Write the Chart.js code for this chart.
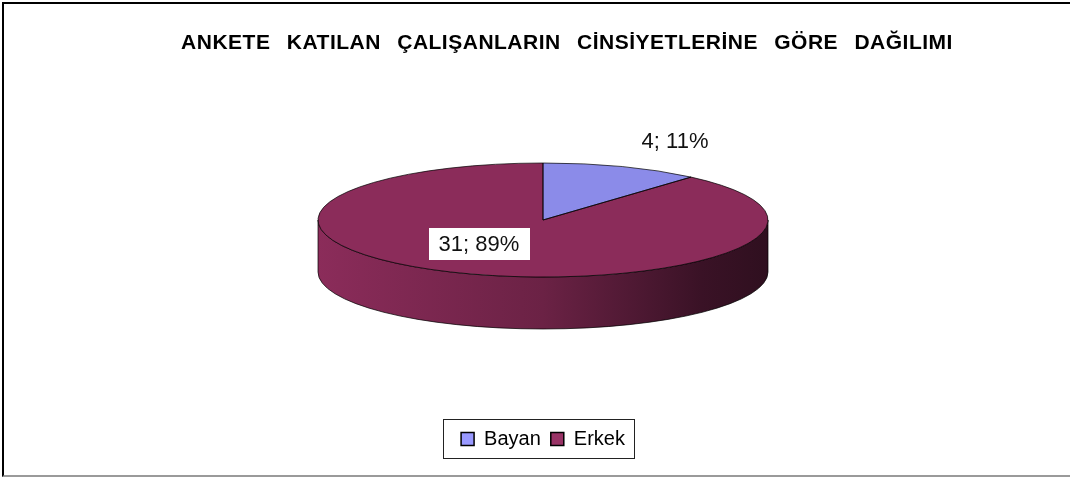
<!DOCTYPE html>
<html>
<head>
<meta charset="utf-8">
<script src="https://cdn.jsdelivr.net/npm/chart.js@4"></script>
<style>
html, body { margin: 0; padding: 0; background: #fff; }
#wrap { position: relative; width: 1070px; height: 477px; overflow: hidden; }
#frame { position: absolute; left: 2px; top: 2px; width: 1080px; height: 471px;
  border-top: 2px solid #000; border-left: 2px solid #000; border-bottom: 2px solid #9a9a9a; pointer-events: none; }
#title { position: absolute; left: 0; top: 31px; width: 1134px; text-align: center;
  font: bold 21px "Liberation Sans", Arial, sans-serif; line-height: 21px; letter-spacing: 0.5px; word-spacing: 10px; color: #000; }
canvas { position: absolute; left: 0; top: 0; }
</style>
</head>
<body>
<div id="wrap">
  <canvas id="chart-gender" width="1070" height="477"></canvas>
  <div id="title">ANKETE KATILAN ÇALIŞANLARIN CİNSİYETLERİNE GÖRE DAĞILIMI</div>
  <div id="frame"></div>
</div>
<script>
// data
const categories = ['Bayan', 'Erkek'];
const counts = [4, 31];

// styles
const sliceColors = ['#8b8be9', '#8b2c5a'];
const legendColors = ['#9999ff', '#993366'];
const tilt = 0.2533;   // ellipse squash of the top face
const depth = 52;      // thickness of the pie side
// label placement, relative to the slice middle (x / y radius factors)
const labelPlace = [
    { fx: 1.67, fy: 1.49, box: false },
    { fx: 0.81, fy: 0.45, box: true }
];

function shade(hex, f) {
    const n = parseInt(hex.slice(1), 16);
    const r = Math.round(((n >> 16) & 255) * f);
    const g = Math.round(((n >> 8) & 255) * f);
    const b = Math.round((n & 255) * f);
    return `rgb(${r},${g},${b})`;
}

// parts of [a0, a1] that lie on the front (lower) half of the ellipse
function frontRanges(a0, a1) {
    const out = [];
    for (let k = -1; k <= 1; k++) {
        const s = Math.max(a0, k * 2 * Math.PI);
        const e = Math.min(a1, k * 2 * Math.PI + Math.PI);
        if (e > s) out.push([s, e]);
    }
    return out;
}

const pie3d = {
    id: 'pie3d',
    beforeDatasetsDraw(chart) {
        const ctx = chart.ctx;
        const arcs = chart.getDatasetMeta(0).data;
        const { x, y, outerRadius: r } = arcs[0];
        const ry = r * tilt;

        ctx.save();
        arcs.forEach((arc, i) => {
            const base = sliceColors[i];
            const grad = ctx.createLinearGradient(x - r, 0, x + r, 0);
            grad.addColorStop(0, base);
            grad.addColorStop(0.5, shade(base, 0.77));
            grad.addColorStop(0.85, shade(base, 0.42));
            grad.addColorStop(1, shade(base, 0.34));
            frontRanges(arc.startAngle, arc.endAngle).forEach(([s, e]) => {
                ctx.beginPath();
                ctx.ellipse(x, y, r, ry, 0, s, e);
                ctx.ellipse(x, y + depth, r, ry, 0, e, s, true);
                ctx.closePath();
                ctx.fillStyle = grad;
                ctx.fill();
                ctx.strokeStyle = 'rgba(0,0,0,0.7)';
                ctx.lineWidth = 1;
                ctx.stroke();
            });
        });
        ctx.restore();

        // squash the library's own arcs into the top face
        ctx.save();
        ctx.translate(x, y);
        ctx.scale(1, tilt);
        ctx.translate(-x, -y);
    },
    afterDatasetsDraw(chart) {
        const ctx = chart.ctx;
        ctx.restore();

        const arcs = chart.getDatasetMeta(0).data;
        const { x, y, outerRadius: r } = arcs[0];
        const ry = r * tilt;
        const values = chart.data.datasets[0].data;
        const total = values.reduce((a, b) => a + b, 0);

        ctx.save();
        ctx.strokeStyle = 'rgba(0,0,0,0.7)';
        ctx.lineWidth = 1;
        arcs.forEach((arc) => {
            ctx.beginPath();
            ctx.moveTo(x, y);
            ctx.ellipse(x, y, r, ry, 0, arc.startAngle, arc.endAngle);
            ctx.closePath();
            ctx.stroke();
        });

        ctx.font = '22px "Liberation Sans", Arial, sans-serif';
        ctx.textAlign = 'center';
        ctx.textBaseline = 'middle';
        arcs.forEach((arc, i) => {
            const mid = (arc.startAngle + arc.endAngle) / 2;
            const p = labelPlace[i];
            const lx = x + r * p.fx * Math.cos(mid);
            const ly = y + ry * p.fy * Math.sin(mid);
            const text = `${values[i]}; ${Math.round(values[i] / total * 100)}%`;
            if (p.box) {
                const w = ctx.measureText(text).width + 20;
                ctx.fillStyle = '#fff';
                ctx.fillRect(Math.round(lx - w / 2), Math.round(ly - 16), Math.round(w), 32);
            }
            ctx.fillStyle = '#111';
            ctx.fillText(text, lx, ly + 1);
        });
        ctx.restore();
    },
    afterDraw(chart) {
        const lg = chart.legend;
        const hb = lg.legendHitBoxes;
        if (!hb || !hb.length) return;
        const last = hb[hb.length - 1];
        const left = Math.round(hb[0].left - 18);
        const right = Math.round(last.left + last.width + 9);
        const ctx = chart.ctx;
        ctx.save();
        ctx.strokeStyle = '#222';
        ctx.lineWidth = 1;
        ctx.strokeRect(left + 0.5, Math.round(lg.top) + 0.5, right - left, Math.round(lg.height) - 1);
        ctx.restore();
    }
};

new Chart(document.getElementById('chart-gender'), {
    type: 'pie',
    data: {
        labels: categories,
        datasets: [{
            data: counts,
            backgroundColor: sliceColors,
            borderWidth: 0,
            radius: 225,
            clip: false
        }]
    },
    options: {
        responsive: false,
        animation: false,
        events: [],
        layout: { padding: { top: 21, bottom: 18, left: 16, right: 0 } },
        plugins: {
            title: { display: false },
            tooltip: { enabled: false },
            legend: {
                position: 'bottom',
                labels: {
                    color: '#000',
                    font: { family: '"Liberation Sans", Arial, sans-serif', size: 20 },
                    boxWidth: 13,
                    boxHeight: 13,
                    padding: 10,
                    generateLabels(chart) {
                        const items = Chart.overrides.doughnut.plugins.legend.labels.generateLabels(chart);
                        return items.map((it, i) => ({ ...it, fillStyle: legendColors[i], strokeStyle: '#000', lineWidth: 1.5 }));
                    }
                }
            }
        }
    },
    plugins: [pie3d]
});
</script>
</body>
</html>
